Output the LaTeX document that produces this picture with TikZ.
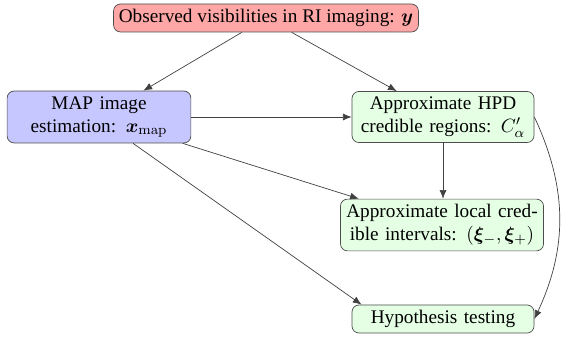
\documentclass[tikz,border=0pt]{standalone}
\usepackage{amsmath,bm}
\usepackage[no-math]{fontspec}
\setmainfont{Liberation Serif}
\usetikzlibrary{arrows.meta,calc}

\begin{document}
\begin{tikzpicture}[x=0.5714pt,y=0.5714pt,
    box/.style={draw=black!70,rounded corners=4pt,align=center,inner sep=3pt,
        font=\fontsize{11}{13.2}\selectfont},
    obsbox/.style={box,fill=red!35},
    mapbox/.style={box,fill=blue!22,text width=99pt},
    resbox/.style={box,fill=green!10,text width=98pt},
    link/.style={-{Latex[length=5pt,width=4pt]},black!75}]
    \useasboundingbox (0,0) rectangle (562,336);

    \node[obsbox] (obs) at (266,318) {Observed visibilities in RI imaging: $\bm{y}$};
    \node[mapbox] (map) at (99,219) {MAP image\\estimation: $\bm{x}_{\mathrm{map}}$};
    \node[resbox] (hpd) at (443,219) {Approximate HPD\\credible regions: $C'_{\alpha}$};
    \node[resbox,text width=110pt] (loc) at (442,111) {Approximate local cred-\\ible intervals: $(\bm{\xi}_{-},\bm{\xi}_{+})$};
    \node[resbox] (hyp) at (443,17) {Hypothesis testing};

    \draw[link] (obs) -- (map);
    \draw[link] (obs) -- (hpd);
    \draw[link] (map) -- (hpd);
    \draw[link] (map) -- (loc);
    \draw[link] ($(map.south)+(34,0)$) -- (hyp.170);
    \draw[link] (hpd.south) -- (hpd.south |- loc.north);
    \draw[link] (hpd.east) to[out=-65,in=65] (hyp.east);
\end{tikzpicture}
\end{document}
